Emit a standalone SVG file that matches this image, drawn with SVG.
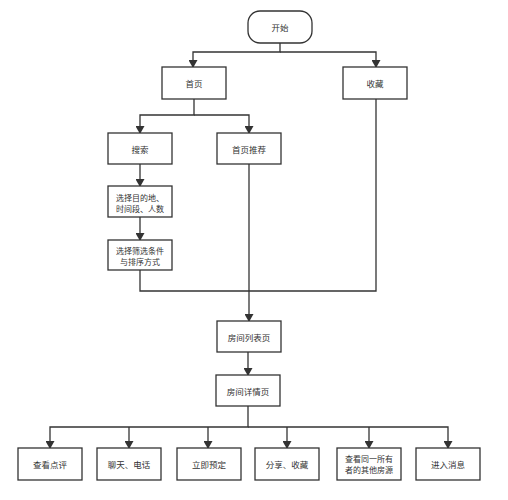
<svg xmlns="http://www.w3.org/2000/svg" width="508" height="500" viewBox="0 0 508 500">
<style>
.box{fill:#fff;stroke:#333;stroke-width:1.3}
.t{font-family:"Noto Sans CJK SC","Liberation Sans",sans-serif;font-size:8.5px;fill:#333;text-anchor:middle;dominant-baseline:central}
.t2{font-size:8px}
.c{fill:none;stroke:#333;stroke-width:1.3}
</style>
<defs>
<marker id="ah" markerWidth="8" markerHeight="9" refX="7" refY="4.5" orient="auto" markerUnits="userSpaceOnUse" viewBox="0 0 8 9">
<path d="M0,0 L8,4.5 L0,9 Z" fill="#333"/>
</marker>
</defs>
<rect width="508" height="500" fill="#fff"/>
<g id="connectors">
<path class="c" d="M280,43 V52 H193 V67" marker-end="url(#ah)"/>
<path class="c" d="M280,52 H376 V67" marker-end="url(#ah)"/>
<path class="c" d="M194,99 V115 H140 V133" marker-end="url(#ah)"/>
<path class="c" d="M194,115 H249 V133" marker-end="url(#ah)"/>
<path class="c" d="M140,164 V186" marker-end="url(#ah)"/>
<path class="c" d="M140,217 V240" marker-end="url(#ah)"/>
<path class="c" d="M140,270 V291 H376 V99"/>
<path class="c" d="M249,164 V321" marker-end="url(#ah)"/>
<path class="c" d="M248,352 V375" marker-end="url(#ah)"/>
<path class="c" d="M248,406 V427 H50 V448" marker-end="url(#ah)"/>
<path class="c" d="M129,427 V448" marker-end="url(#ah)"/>
<path class="c" d="M208,427 V448" marker-end="url(#ah)"/>
<path class="c" d="M248,427 H448 V448" marker-end="url(#ah)"/>
<path class="c" d="M287,427 V448" marker-end="url(#ah)"/>
<path class="c" d="M369,427 V448" marker-end="url(#ah)"/>
</g>
<g id="start"><rect class="box" x="248" y="11" width="64" height="32" rx="12"/><text class="t" x="280" y="27">开始</text></g>
<g id="home"><rect class="box" x="162" y="67" width="64" height="32"/><text class="t" x="194" y="83">首页</text></g>
<g id="fav"><rect class="box" x="343" y="67" width="64" height="32"/><text class="t" x="375" y="83">收藏</text></g>
<g id="search"><rect class="box" x="108" y="133" width="64" height="31"/><text class="t" x="140" y="148.5">搜索</text></g>
<g id="recommend"><rect class="box" x="217" y="133" width="64" height="31"/><text class="t" x="249" y="148.5">首页推荐</text></g>
<g id="select-dest"><rect class="box" x="108" y="186" width="64" height="31"/><text class="t t2" x="140" y="197">选择目的地、</text><text class="t t2" x="140" y="208">时间段、人数</text></g>
<g id="select-filter"><rect class="box" x="108" y="240" width="64" height="30"/><text class="t t2" x="140" y="250">选择筛选条件</text><text class="t t2" x="140" y="261">与排序方式</text></g>
<g id="list"><rect class="box" x="217" y="321" width="64" height="31"/><text class="t" x="249" y="336.5">房间列表页</text></g>
<g id="detail"><rect class="box" x="216" y="375" width="64" height="31"/><text class="t" x="248" y="390.5">房间详情页</text></g>
<g id="reviews"><rect class="box" x="18" y="448" width="64" height="32"/><text class="t" x="50" y="464">查看点评</text></g>
<g id="chat"><rect class="box" x="97" y="448" width="64" height="32"/><text class="t" x="129" y="464">聊天、电话</text></g>
<g id="book"><rect class="box" x="177" y="448" width="64" height="32"/><text class="t" x="209" y="464">立即预定</text></g>
<g id="share"><rect class="box" x="255" y="448" width="64" height="32"/><text class="t" x="287" y="464">分享、收藏</text></g>
<g id="other"><rect class="box" x="337" y="448" width="64" height="32"/><text class="t t2" x="369" y="458.5">查看同一所有</text><text class="t t2" x="369" y="469.5">者的其他房源</text></g>
<g id="message"><rect class="box" x="416" y="448" width="64" height="32"/><text class="t" x="448" y="464">进入消息</text></g>
</svg>
